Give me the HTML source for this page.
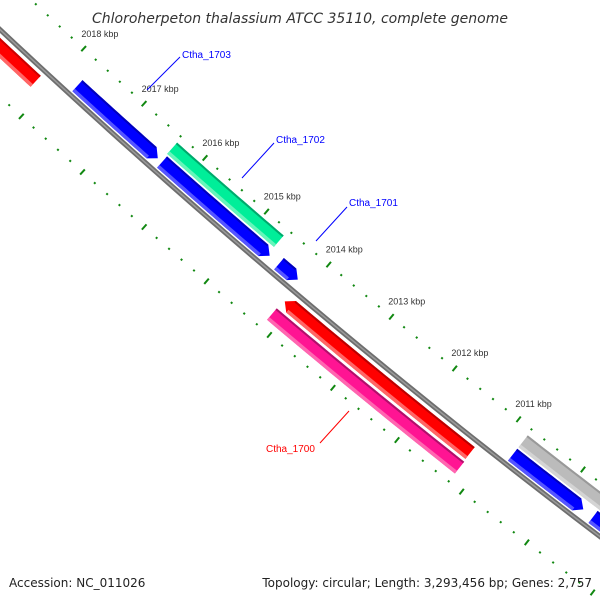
<!DOCTYPE html>
<html><head><meta charset="utf-8"><style>
html,body{margin:0;padding:0;background:#fff;overflow:hidden;}
svg{display:block;font-family:"Liberation Sans",sans-serif;overflow:hidden;}
</style></head><body>
<svg id="map" width="600" height="600" viewBox="0 0 600 600" xmlns="http://www.w3.org/2000/svg">
<defs><clipPath id="frame"><rect x="0" y="0" width="600" height="600"/></clipPath></defs>
<rect width="600" height="600" fill="#fff"/>
<g clip-path="url(#frame)">
<g id="ticks"></g>
<g id="backbone"></g>
<g id="features"></g>
</g>
<g id="labels">
  <line x1="147" y1="90" x2="180" y2="57" stroke="#0000ff" stroke-width="1"/>
  <text x="182" y="58" font-size="10" fill="#0000ff">Ctha_1703</text>
  <line x1="242" y1="178" x2="274" y2="143" stroke="#0000ff" stroke-width="1"/>
  <text x="276" y="143" font-size="10" fill="#0000ff">Ctha_1702</text>
  <line x1="316" y1="241" x2="347" y2="207" stroke="#0000ff" stroke-width="1"/>
  <text x="349" y="206" font-size="10" fill="#0000ff">Ctha_1701</text>
  <line x1="320" y1="443" x2="349" y2="411" stroke="#ff0000" stroke-width="1"/>
  <text x="266" y="452" font-size="10" fill="#ff0000">Ctha_1700</text>
</g>
<text x="300" y="23" font-size="14" font-style="italic" fill="#333" text-anchor="middle" style="font-family:'DejaVu Sans',sans-serif">Chloroherpeton thalassium ATCC 35110, complete genome</text>
<text x="9" y="587" font-size="12" fill="#222" style="font-family:'DejaVu Sans',sans-serif">Accession: NC_011026</text>
<text x="592" y="587" font-size="12" fill="#222" text-anchor="end" style="font-family:'DejaVu Sans',sans-serif">Topology: circular; Length: 3,293,456 bp; Genes: 2,757</text>
</svg>
<script>
// data
const tickLabelsKbp = [2018, 2017, 2016, 2015, 2014, 2013, 2012, 2011];
const featNames = ["gene-left-red", "ctha-1703", "ctha-1702", "gene-blue-2", "ctha-1701", "ctha-1700", "gene-pink", "gene-gray", "gene-blue-3", "gene-blue-4"];
const featStart = [2018.16, 2016.43, 2014.65, 2014.62, 2014.17, 2011.21, 2011.20, 2009.0, 2009.70, 2008.5];
const featEnd = [2019.6, 2017.75, 2016.38, 2016.36, 2014.47, 2014.12, 2014.14, 2010.79, 2010.79, 2009.55];
const featSlot = ["r1", "f1", "f2", "f1", "f1", "r1", "r2", "f2", "f1", "f1"];
const featArrow = [0, -1, 0, -1, -1, 1, 0, 0, -1, -1];
const featColor = ["#ff0000", "#0000ff", "#00ee99", "#0000ff", "#0000ff", "#ff0000", "#ff1493", "#bbbbbb", "#0000ff", "#0000ff"];
const featLight = ["#ff6666", "#5555ff", "#66f5bb", "#5555ff", "#5555ff", "#ff6666", "#ff66b0", "#d4d4d4", "#5555ff", "#5555ff"];
const featDark = ["#cc0000", "#0000bb", "#00a86c", "#0000bb", "#0000bb", "#bb0000", "#b0106a", "#999999", "#0000bb", "#0000bb"];

// geometry (circular axis)
const CX = 5122, CY = -5423, RAD = 7481, A0 = 132.01, DEG = 0.629, K0 = 2017;
const SLOTS = {f1: [-19, -4], f2: [-36, -21], r1: [6, 21], r2: [24, 39]};
function pt(k, d) {
  const t = (A0 + (k - K0) * DEG) * Math.PI / 180;
  return [CX + (RAD + d) * Math.cos(t), CY + (RAD + d) * Math.sin(t)];
}
function arcPts(k1, k2, d, n) {
  const out = [];
  for (let i = 0; i <= n; i++) out.push(pt(k1 + (k2 - k1) * i / n, d));
  return out;
}
const NS = "http://www.w3.org/2000/svg";
function poly(points) {
  return points.map(p => p[0].toFixed(2) + "," + p[1].toFixed(2)).join(" ");
}

// backbone
const bb = document.getElementById("backbone");
const bbPts = arcPts(2008.2, 2019.8, 0, 60);
const bb1 = document.createElementNS(NS, "polyline");
bb1.setAttribute("points", poly(bbPts));
bb1.setAttribute("fill", "none"); bb1.setAttribute("stroke", "#6e6e6e"); bb1.setAttribute("stroke-width", "5");


bb.appendChild(bb1);
const bb2 = document.createElementNS(NS, "polyline");
bb2.setAttribute("points", poly(bbPts));
bb2.setAttribute("fill", "none"); bb2.setAttribute("stroke", "#9a9a9a"); bb2.setAttribute("stroke-width", "1.5");


bb.appendChild(bb2);

// ticks
const tg = document.getElementById("ticks");
function tickMark(k, d, len, w) {
  const a = pt(k, d - len / 2), b = pt(k, d + len / 2);
  const l = document.createElementNS(NS, "line");
  l.setAttribute("x1", a[0]); l.setAttribute("y1", a[1]);
  l.setAttribute("x2", b[0]); l.setAttribute("y2", b[1]);
  l.setAttribute("stroke", "#118811"); l.setAttribute("stroke-width", w);
  return l;
}
for (let i = 0; i <= 60; i++) {
  const k = 2008 + i * 0.2;
  const major = Math.abs(k - Math.round(k)) < 1e-6;
  const t1 = tickMark(k, -43, major ? 7 : 2, 2);
  
  
  tg.appendChild(t1);
  const t2 = tickMark(k, 49, major ? 7 : 2, 2);
  
  
  tg.appendChild(t2);
}
tickLabelsKbp.forEach(k => {
  const p = pt(k, -64);
  const t = document.createElementNS(NS, "text");
  t.setAttribute("x", p[0] + 2); t.setAttribute("y", p[1] + 4);
  t.setAttribute("font-size", "9"); t.setAttribute("fill", "#333");
  t.setAttribute("text-anchor", "middle");
  t.textContent = k + " kbp";
  
  
  tg.appendChild(t);
});

// features
const fg = document.getElementById("features");
const HEAD = 0.1;
function featurePts(k1, k2, d1, d2, arrow) {
  const n = 24, mid = (d1 + d2) / 2;
  if (arrow === -1) {
    const outer = arcPts(k2, k1 + HEAD, d1, n);
    const inner = arcPts(k1 + HEAD, k2, d2, n);
    return outer.concat([pt(k1, mid)], inner);
  } else if (arrow === 1) {
    const outer = arcPts(k1, k2 - HEAD, d1, n);
    const inner = arcPts(k2 - HEAD, k1, d2, n);
    return outer.concat([pt(k2, mid)], inner);
  }
  return arcPts(k1, k2, d1, n).concat(arcPts(k2, k1, d2, n));
}
function bandPts(k1, k2, d1, d2) {
  return arcPts(k1, k2, d1, 24).concat(arcPts(k2, k1, d2, 24));
}
featNames.forEach((name, i) => {
  const s = SLOTS[featSlot[i]];
  const k1 = featStart[i], k2 = featEnd[i], ar = featArrow[i];
  const g = document.createElementNS(NS, "g");
  
  
  const body = document.createElementNS(NS, "polygon");
  body.setAttribute("points", poly(featurePts(k1, k2, s[0], s[1], ar)));
  body.setAttribute("fill", featColor[i]);
  
  
  g.appendChild(body);
  const a1 = ar === -1 ? k1 + HEAD : k1, a2 = ar === 1 ? k2 - HEAD : k2;
  const light = document.createElementNS(NS, "polygon");
  light.setAttribute("points", poly(bandPts(a1, a2, s[1] - 3.5, s[1])));
  light.setAttribute("fill", featLight[i]);
  
  
  g.appendChild(light);
  const dark = document.createElementNS(NS, "polygon");
  dark.setAttribute("points", poly(bandPts(a1, a2, s[0], s[0] + 2)));
  dark.setAttribute("fill", featDark[i]);
  
  
  g.appendChild(dark);
  fg.appendChild(g);
});
</script>
</body></html>
